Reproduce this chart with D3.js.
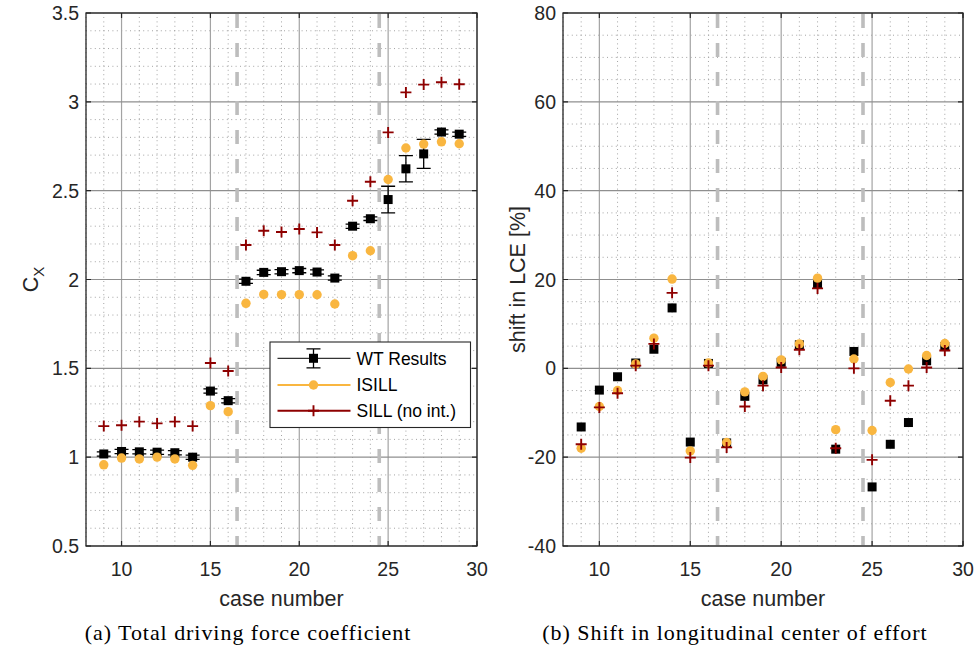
<!DOCTYPE html>
<html>
<head>
<meta charset="utf-8">
<script src="https://cdn.jsdelivr.net/npm/d3@7"></script>
<style>
  html, body { margin: 0; padding: 0; background: #fff; }
  svg { display: block; }
  .tick-label { font-family: "Liberation Sans", Arial, sans-serif; font-size: 19.5px; fill: #262626; }
  .axis-title { font-family: "Liberation Sans", Arial, sans-serif; font-size: 21.5px; fill: #262626; }
  .legend-text { font-family: "Liberation Sans", Arial, sans-serif; font-size: 17.5px; fill: #000; }
  .caption { font-family: "Liberation Serif", "DejaVu Serif", serif; font-size: 22px; letter-spacing: 0.95px; fill: #000; }
</style>
</head>
<body>
<svg id="fig" width="980" height="649"></svg>
<script>
// Case numbers tested in the wind tunnel
const caseNumbers = [9, 10, 11, 12, 13, 14, 15, 16, 17, 18, 19, 20, 21, 22, 23, 24, 25, 26, 27, 28, 29];

// Total driving force coefficient C_X
const wtCx    = [1.018, 1.032, 1.030, 1.028, 1.025, 1.000, 1.372, 1.318, 1.990, 2.040, 2.044, 2.050, 2.042, 2.008, 2.300, 2.342, 2.450, 2.623, 2.707, 2.830, 2.818];
const wtCxErr = [0.012, 0.012, 0.012, 0.012, 0.012, 0.012, 0.012, 0.012, 0.012, 0.012, 0.012, 0.012, 0.012, 0.012, 0.012, 0.010, 0.075, 0.074, 0.082, 0.012, 0.012];
const isillCx = [0.957, 0.995, 0.990, 1.000, 0.990, 0.954, 1.290, 1.256, 1.866, 1.916, 1.915, 1.915, 1.914, 1.862, 2.134, 2.162, 2.563, 2.740, 2.762, 2.775, 2.764];
const sillCx  = [1.175, 1.180, 1.200, 1.190, 1.200, 1.175, 1.530, 1.485, 2.194, 2.274, 2.267, 2.284, 2.265, 2.194, 2.443, 2.550, 2.828, 3.053, 3.097, 3.110, 3.099];

// Shift in longitudinal centre of effort [%]
const wtLce    = [-13.2, -4.9, -1.9, 1.2, 4.3, 13.6, -16.6, 1.1, -16.8, -6.3, -2.6, 1.35, 5.3, 19.0, -18.2, 3.8, -26.7, -17.1, -12.2, 1.7, 4.9];
const isillLce = [-18.0, -8.6, -5.0, 1.0, 6.8, 20.1, -18.6, 1.2, -16.7, -5.3, -1.8, 1.9, 5.5, 20.3, -13.8, 2.1, -14.0, -3.2, -0.15, 2.9, 5.6];
const sillLce  = [-17.1, -8.8, -5.6, 0.6, 5.5, 17.0, -20.1, 0.6, -17.8, -8.6, -3.9, 0.2, 4.2, 18.0, -18.0, 0.0, -20.6, -7.3, -3.9, 0.2, 4.0];

// Axis ticks and regime boundaries
const caseTicks = [10, 15, 20, 25, 30];
const cxTicks = [0.5, 1, 1.5, 2, 2.5, 3, 3.5];
const lceTicks = [-40, -20, 0, 20, 40, 60, 80];
const regimeBounds = [16.5, 24.5];

const seriesNames = ["WT Results", "ISILL", "SILL (no int.)"];
const captions = ["(a) Total driving force coefficient", "(b) Shift in longitudinal center of effort"];

const COL_WT = "#000000";
const COL_ISILL = "#F9B640";
const COL_SILL = "#8E0000";

const svg = d3.select("#fig");
svg.append("rect").attr("width", 980).attr("height", 649).attr("fill", "#fff");

function drawPanel(opts) {
  const { x, y, yTicks, yMinorStep, yFmt, wt, wtErr, isill, sill, yTitle, caption, captionX } = opts;
  const g = svg.append("g");
  const [x0, x1] = x.range();
  const [y0, y1] = y.range(); // y0 bottom, y1 top

  // minor grid (dotted)
  const xd = x.domain(), yd = y.domain();
  const xMinor = d3.range(xd[0], xd[1] + 1e-9, 1).filter(v => !caseTicks.includes(v));
  const yMinor = d3.range(yd[0], yd[1] + 1e-9, yMinorStep).map(v => +v.toFixed(4))
    .filter(v => !yTicks.some(t => Math.abs(t - v) < 1e-6));
  g.selectAll(".gxm").data(xMinor).join("line")
    .attr("x1", d => x(d)).attr("x2", d => x(d)).attr("y1", y0).attr("y2", y1)
    .attr("stroke", "#9a9a9a").attr("stroke-width", 0.9).attr("stroke-dasharray", "1,3.4");
  g.selectAll(".gym").data(yMinor).join("line")
    .attr("x1", x0).attr("x2", x1).attr("y1", d => y(d)).attr("y2", d => y(d))
    .attr("stroke", "#9a9a9a").attr("stroke-width", 0.9).attr("stroke-dasharray", "1,3.4");

  // major grid
  g.selectAll(".gx").data(caseTicks).join("line")
    .attr("x1", d => x(d)).attr("x2", d => x(d)).attr("y1", y0).attr("y2", y1)
    .attr("stroke", "#a3a3a3").attr("stroke-width", 1.2);
  g.selectAll(".gy").data(yTicks).join("line")
    .attr("x1", x0).attr("x2", x1).attr("y1", d => y(d)).attr("y2", d => y(d))
    .attr("stroke", "#8f8f8f").attr("stroke-width", 1.2);

  // regime boundaries
  g.selectAll(".rb").data(regimeBounds).join("line")
    .attr("x1", d => x(d)).attr("x2", d => x(d)).attr("y1", y1 + 1).attr("y2", y0)
    .attr("stroke", "#bdbdbd").attr("stroke-width", 3.6).attr("stroke-dasharray", "14,15");

  // axes box
  g.append("rect").attr("x", x0).attr("y", y1).attr("width", x1 - x0).attr("height", y0 - y1)
    .attr("fill", "none").attr("stroke", "#262626").attr("stroke-width", 1.3);

  // tick marks (inside)
  g.selectAll(".tx").data(caseTicks).join("path")
    .attr("d", d => `M${x(d)},${y0}v-5M${x(d)},${y1}v5`).attr("stroke", "#262626").attr("stroke-width", 1.2);
  g.selectAll(".ty").data(yTicks).join("path")
    .attr("d", d => `M${x0},${y(d)}h5M${x1},${y(d)}h-5`).attr("stroke", "#262626").attr("stroke-width", 1.2);

  // tick labels
  g.selectAll(".xl").data(caseTicks).join("text").attr("class", "tick-label")
    .attr("x", d => x(d)).attr("y", y0 + 29.5).attr("text-anchor", "middle").text(d => d);
  g.selectAll(".yl").data(yTicks).join("text").attr("class", "tick-label")
    .attr("x", x0 - 7).attr("y", d => y(d) + 7).attr("text-anchor", "end").text(yFmt);

  // axis titles
  g.append("text").attr("class", "axis-title").attr("x", (x0 + x1) / 2).attr("y", y0 + 60)
    .attr("text-anchor", "middle").text("case number");
  yTitle(g, (y0 + y1) / 2);

  // caption
  g.append("text").attr("class", "caption").attr("x", captionX).attr("y", 640)
    .attr("text-anchor", "middle").text(caption);

  // WT results with error bars
  const pts = caseNumbers.map((c, i) => ({ c, wt: wt[i], e: wtErr ? wtErr[i] : 0, isill: isill[i], sill: sill[i] }));
  if (wtErr) {
    const eb = g.append("g").attr("stroke", COL_WT).attr("stroke-width", 1.3).attr("fill", "none");
    eb.selectAll("path").data(pts).join("path")
      .attr("d", d => {
        const cx = x(d.c), ya = y(d.wt + d.e), yb = y(d.wt - d.e);
        return `M${cx},${ya}V${yb}M${cx - 7},${ya}h14M${cx - 7},${yb}h14`;
      });
  }
  g.selectAll(".wt").data(pts).join("rect")
    .attr("x", d => x(d.c) - 4.5).attr("y", d => y(d.wt) - 4.5)
    .attr("width", 9).attr("height", 9).attr("fill", COL_WT);

  // ISILL
  g.selectAll(".is").data(pts).join("circle")
    .attr("cx", d => x(d.c)).attr("cy", d => y(d.isill)).attr("r", 4.7).attr("fill", COL_ISILL);

  // SILL (no interaction)
  g.selectAll(".si").data(pts).join("path")
    .attr("d", d => `M${x(d.c) - 5.5},${y(d.sill)}h11M${x(d.c)},${y(d.sill) - 5.5}v11`)
    .attr("stroke", COL_SILL).attr("stroke-width", 1.9).attr("fill", "none");

  return g;
}

// Panel (a): driving force coefficient
const xA = d3.scaleLinear().domain([8, 30]).range([86, 477]);
const yA = d3.scaleLinear().domain([0.5, 3.5]).range([546, 13]);
const gA = drawPanel({
  x: xA, y: yA, yTicks: cxTicks, yMinorStep: 0.1, yFmt: d => d,
  wt: wtCx, wtErr: wtCxErr, isill: isillCx, sill: sillCx,
  caption: captions[0], captionX: 248,
  yTitle: (g, cy) => {
    const t = g.append("text").attr("class", "axis-title")
      .attr("transform", `translate(38,${cy}) rotate(-90)`).attr("text-anchor", "middle");
    t.append("tspan").text("C");
    t.append("tspan").attr("dy", 6).attr("font-size", "15px").text("X");
  }
});

// Legend for panel (a)
const lg = gA.append("g");
lg.append("rect").attr("x", 270).attr("y", 342).attr("width", 200.5).attr("height", 85.5)
  .attr("fill", "#fff").attr("stroke", "#262626").attr("stroke-width", 1.1);
const rowY = [358.3, 385, 410.7];
const lx0 = 277.5, lx1 = 350.5, lxm = 313.5;
// WT entry
lg.append("line").attr("x1", lx0).attr("x2", lx1).attr("y1", rowY[0]).attr("y2", rowY[0]).attr("stroke", COL_WT).attr("stroke-width", 1);
lg.append("path").attr("d", `M${lxm},${rowY[0] - 9.5}V${rowY[0] + 9.5}M${lxm - 7},${rowY[0] - 9.5}h14M${lxm - 7},${rowY[0] + 9.5}h14`)
  .attr("stroke", COL_WT).attr("stroke-width", 1.3).attr("fill", "none");
lg.append("rect").attr("x", lxm - 4.5).attr("y", rowY[0] - 4.5).attr("width", 9).attr("height", 9).attr("fill", COL_WT);
// ISILL entry
lg.append("line").attr("x1", lx0).attr("x2", lx1).attr("y1", rowY[1]).attr("y2", rowY[1]).attr("stroke", COL_ISILL).attr("stroke-width", 2);
lg.append("circle").attr("cx", lxm).attr("cy", rowY[1]).attr("r", 4.7).attr("fill", COL_ISILL);
// SILL entry
lg.append("line").attr("x1", lx0).attr("x2", lx1).attr("y1", rowY[2]).attr("y2", rowY[2]).attr("stroke", COL_SILL).attr("stroke-width", 2);
lg.append("path").attr("d", `M${lxm - 5.5},${rowY[2]}h11M${lxm},${rowY[2] - 5.5}v11`).attr("stroke", COL_SILL).attr("stroke-width", 1.9);
lg.selectAll("text.legend-text").data(seriesNames).join("text").attr("class", "legend-text")
  .attr("x", 356.5).attr("y", (d, i) => rowY[i] + 6.3).text(d => d);

// Panel (b): LCE shift
const xB = d3.scaleLinear().domain([8, 30]).range([563, 963]);
const yB = d3.scaleLinear().domain([-40, 80]).range([546, 13]);
drawPanel({
  x: xB, y: yB, yTicks: lceTicks, yMinorStep: 5, yFmt: d => d,
  wt: wtLce, wtErr: null, isill: isillLce, sill: sillLce,
  caption: captions[1], captionX: 735,
  yTitle: (g, cy) => {
    g.append("text").attr("class", "axis-title")
      .attr("transform", `translate(525,${cy}) rotate(-90)`).attr("text-anchor", "middle")
      .text("shift in LCE [%]");
  }
});
</script>
</body>
</html>
